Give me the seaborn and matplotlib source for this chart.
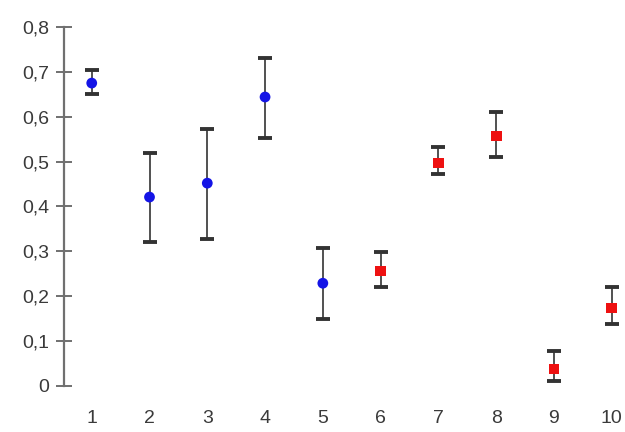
import numpy as np
import pandas as pd
import matplotlib
matplotlib.use("Agg")
import matplotlib.pyplot as plt
import seaborn as sns

# values
samples = [1, 2, 3, 4, 5, 6, 7, 8, 9, 10]
groups = ["A", "A", "A", "A", "A", "B", "B", "B", "B", "B"]
means = [0.675, 0.421, 0.452, 0.644, 0.229, 0.256, 0.497, 0.557, 0.038, 0.174]
upper = [0.704, 0.519, 0.572, 0.730, 0.307, 0.298, 0.532, 0.610, 0.078, 0.220]
lower = [0.650, 0.321, 0.327, 0.552, 0.149, 0.220, 0.472, 0.510, 0.011, 0.138]
ytick_vals = [0, 0.1, 0.2, 0.3, 0.4, 0.5, 0.6, 0.7, 0.8]
ytick_labels = ["0", "0,1", "0,2", "0,3", "0,4", "0,5", "0,6", "0,7", "0,8"]

df = pd.DataFrame({"sample": samples, "group": groups, "mean": means,
                   "upper": upper, "lower": lower})

sns.set_style("white")
plt.rcParams["font.family"] = ["Liberation Sans", "DejaVu Sans"]

fig = plt.figure(figsize=(6.25, 4.32), dpi=100)
ax = fig.add_axes([0.1024, 0.1065, 0.8976, 0.831])

yerr = np.array([df["mean"] - df["lower"], df["upper"] - df["mean"]])
ax.errorbar(df["sample"], df["mean"], yerr=yerr, fmt="none", ecolor="#333333",
            elinewidth=1.2, capsize=5, capthick=2.8, zorder=2, clip_on=False)

sns.scatterplot(data=df, x="sample", y="mean", hue="group", style="group",
                palette={"A": "#1414e6", "B": "#ee1111"},
                markers={"A": "o", "B": "s"}, s=60, edgecolor="none",
                legend=False, ax=ax, zorder=3, clip_on=False)

ax.set_xlim(0.52, 10.23)
ax.set_ylim(0, 0.8)
ax.set_yticks(ytick_vals)
ax.set_yticklabels(ytick_labels)
ax.set_xticks(samples)
ax.set_xticklabels([str(s) for s in samples])
ax.set_xlabel("")
ax.set_ylabel("")

for side in ["top", "right", "bottom"]:
    ax.spines[side].set_visible(False)
ax.spines["left"].set_color("#707070")
ax.spines["left"].set_linewidth(1.6)

ax.tick_params(axis="y", left=True, direction="inout", length=11, width=1.4,
               color="#707070", labelsize=14, labelcolor="#3a3a3a", pad=5)
ax.tick_params(axis="x", bottom=False, length=0, labelsize=14,
               labelcolor="#3a3a3a", pad=17)

fig.savefig("out.png", dpi=100)
